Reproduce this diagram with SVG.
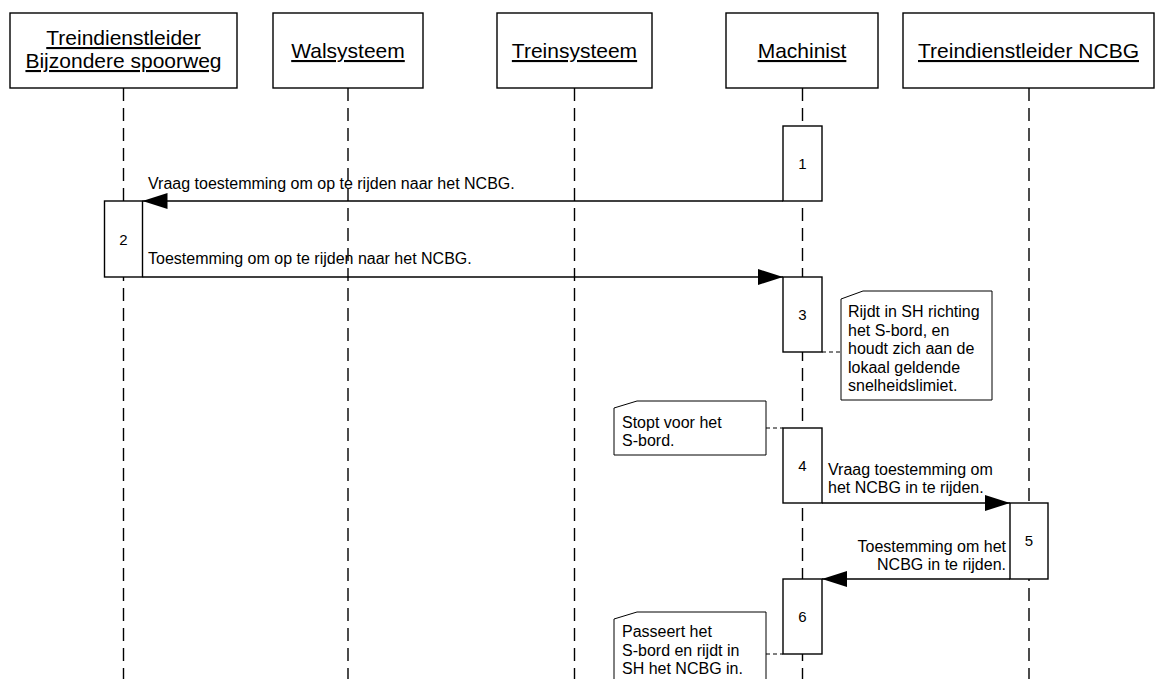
<svg xmlns="http://www.w3.org/2000/svg" width="1158" height="679" viewBox="0 0 1158 679">
  <style>
    .box { fill: #ffffff; stroke: #000000; stroke-width: 1.4; }
    .life { stroke: #000000; stroke-width: 1.4; stroke-dasharray: 13 7; fill: none; }
    .msg { stroke: #000000; stroke-width: 1.4; fill: none; marker-end: url(#head); }
    .link { stroke: #000000; stroke-width: 1; stroke-dasharray: 4 3; fill: none; }
    .note { fill: #ffffff; stroke: #000000; stroke-width: 1; }
    .title { font-family: "Liberation Sans", Arial, sans-serif; font-size: 21px; fill: #000000; text-anchor: middle; text-decoration: underline; }
    .lbl { font-family: "Liberation Sans", Arial, sans-serif; font-size: 16px; fill: #000000; }
    .num { font-family: "Liberation Sans", Arial, sans-serif; font-size: 15px; fill: #000000; text-anchor: middle; }
  </style>
  <defs>
    <marker id="head" markerUnits="userSpaceOnUse" markerWidth="26" markerHeight="16" refX="25" refY="8" orient="auto">
      <path d="M0,0 L25,8 L0,16 Z" fill="#000000"/>
    </marker>
  </defs>

  <rect width="1158" height="679" fill="#ffffff"/>

  <!-- lifelines -->
  <g id="lifelines">
    <line class="life" x1="123.5" y1="88" x2="123.5" y2="679"/>
    <line class="life" x1="348" y1="88" x2="348" y2="679"/>
    <line class="life" x1="574.5" y1="88" x2="574.5" y2="679"/>
    <line class="life" x1="802.5" y1="88" x2="802.5" y2="679"/>
    <line class="life" x1="1029" y1="88" x2="1029" y2="679"/>
  </g>

  <!-- participants -->
  <g id="p-treindienstleider-bs">
    <rect class="box" x="10" y="13" width="227" height="75"/>
    <text class="title" x="123.5" y="45">Treindienstleider</text>
    <text class="title" x="123.5" y="68">Bijzondere spoorweg</text>
  </g>
  <g id="p-walsysteem">
    <rect class="box" x="273" y="13" width="150" height="75"/>
    <text class="title" x="348" y="58">Walsysteem</text>
  </g>
  <g id="p-treinsysteem">
    <rect class="box" x="497" y="13" width="155" height="75"/>
    <text class="title" x="574.5" y="58">Treinsysteem</text>
  </g>
  <g id="p-machinist">
    <rect class="box" x="726" y="13" width="152" height="75"/>
    <text class="title" x="802" y="58">Machinist</text>
  </g>
  <g id="p-treindienstleider-ncbg">
    <rect class="box" x="903" y="13" width="251" height="75"/>
    <text class="title" x="1028.5" y="58">Treindienstleider NCBG</text>
  </g>

  <!-- activations -->
  <g id="act-1">
    <rect class="box" x="783" y="126" width="39" height="75"/>
    <text class="num" x="802.5" y="169">1</text>
  </g>
  <g id="act-2">
    <rect class="box" x="104.5" y="201" width="38" height="76"/>
    <text class="num" x="123.5" y="245">2</text>
  </g>
  <g id="act-3">
    <rect class="box" x="783" y="277" width="39" height="75"/>
    <text class="num" x="802.5" y="320">3</text>
  </g>
  <g id="act-4">
    <rect class="box" x="783" y="428" width="39" height="75"/>
    <text class="num" x="802.5" y="471">4</text>
  </g>
  <g id="act-5">
    <rect class="box" x="1010" y="503" width="38" height="76"/>
    <text class="num" x="1029" y="546">5</text>
  </g>
  <g id="act-6">
    <rect class="box" x="783" y="579" width="39" height="75"/>
    <text class="num" x="802.5" y="622">6</text>
  </g>

  <!-- notes -->
  <g id="note-3">
    <path class="note" d="M841,299 L863,291 L992,291 L992,400 L841,400 Z"/>
    <text class="lbl" x="848" y="317">Rijdt in SH richting</text>
    <text class="lbl" x="848" y="335.6">het S-bord, en</text>
    <text class="lbl" x="848" y="354.2">houdt zich aan de</text>
    <text class="lbl" x="848" y="372.8">lokaal geldende</text>
    <text class="lbl" x="848" y="391.4">snelheidslimiet.</text>
  </g>
  <g id="note-4">
    <path class="note" d="M614,408 L637,401 L766,401 L766,455 L614,455 Z"/>
    <text class="lbl" x="622" y="427.5">Stopt voor het</text>
    <text class="lbl" x="622" y="446">S-bord.</text>
  </g>
  <g id="note-6">
    <path class="note" d="M614,619 L637,612 L766,612 L766,690 L614,690 Z"/>
    <text class="lbl" x="622" y="637">Passeert het</text>
    <text class="lbl" x="622" y="655.5">S-bord en rijdt in</text>
    <text class="lbl" x="622" y="674">SH het NCBG in.</text>
  </g>

  <!-- connectors -->
  <g id="connectors">
    <line class="msg" x1="783" y1="201" x2="142.5" y2="201"/>
    <line class="msg" x1="142.5" y1="277" x2="783" y2="277"/>
    <line class="msg" x1="822" y1="503" x2="1010" y2="503"/>
    <line class="msg" x1="1010" y1="579" x2="822" y2="579"/>
    <line class="link" x1="822" y1="352" x2="841" y2="352"/>
    <line class="link" x1="766" y1="428" x2="783" y2="428"/>
    <line class="link" x1="766" y1="654" x2="783" y2="654"/>
    <text class="lbl" x="148" y="189">Vraag toestemming om op te rijden naar het NCBG.</text>
    <text class="lbl" x="148" y="264">Toestemming om op te rijden naar het NCBG.</text>
    <text class="lbl" x="828" y="475">Vraag toestemming om</text>
    <text class="lbl" x="828" y="493">het NCBG in te rijden.</text>
    <text class="lbl" x="1006" y="552" text-anchor="end">Toestemming om het</text>
    <text class="lbl" x="1006" y="570" text-anchor="end">NCBG in te rijden.</text>
  </g>
</svg>
